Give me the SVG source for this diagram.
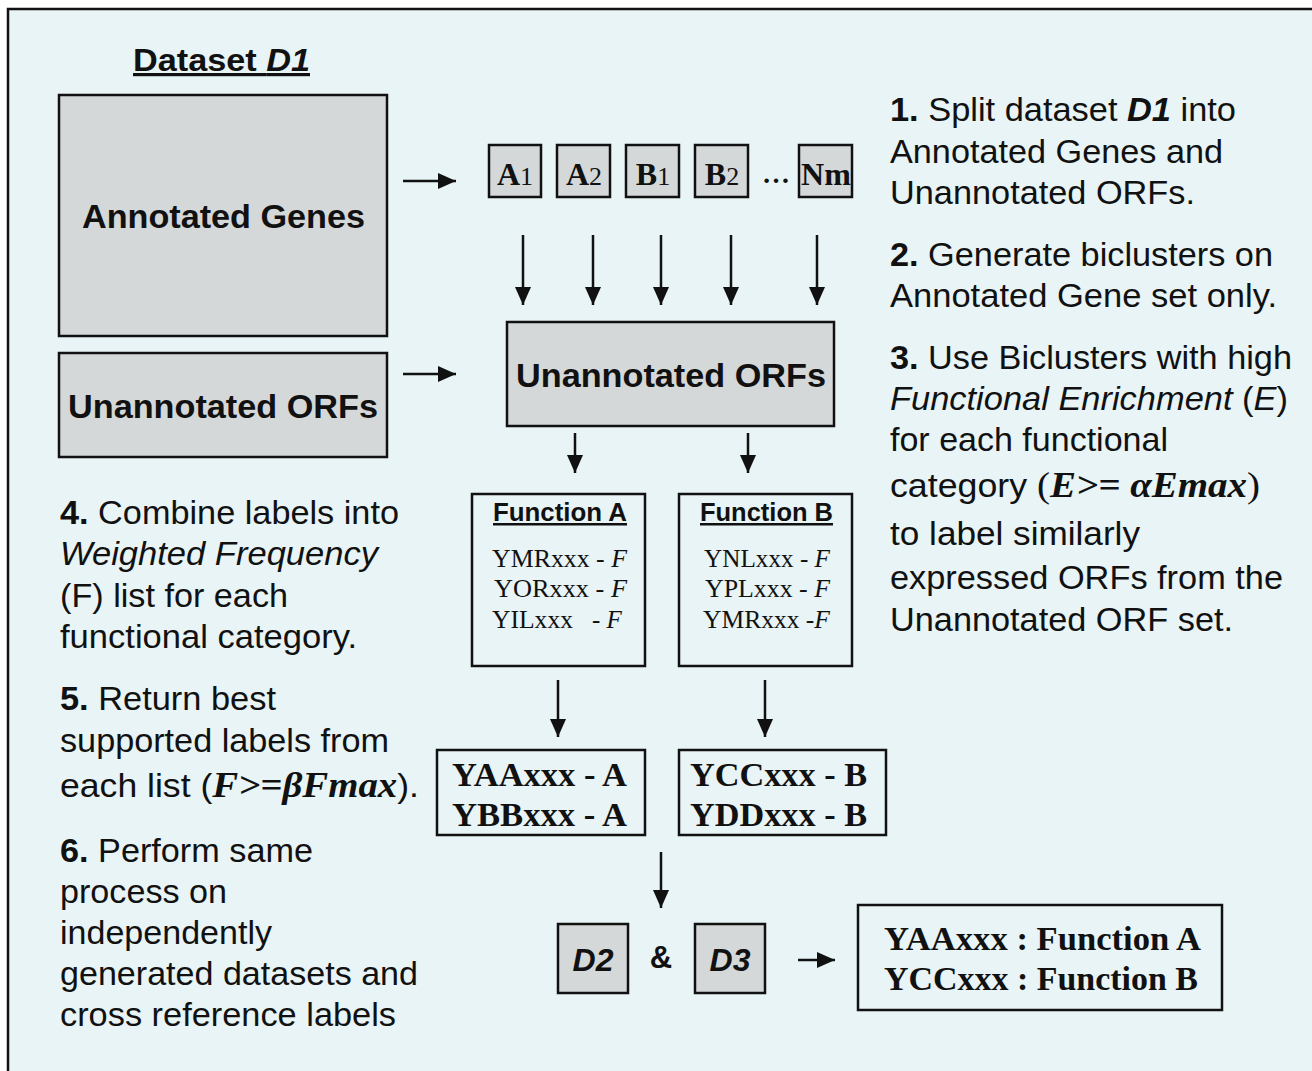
<svg xmlns="http://www.w3.org/2000/svg" width="1312" height="1071" viewBox="0 0 1312 1071">
<defs>
<marker id="ah" viewBox="0 0 18 16" refX="18" refY="8" markerWidth="18" markerHeight="16" markerUnits="userSpaceOnUse" orient="auto">
<path d="M0,0 L18,8 L0,16 Z" fill="#111"/>
</marker>
<style>
.box{fill:#D4D8D8;stroke:#111;stroke-width:2.5}
.wbox{fill:none;stroke:#111;stroke-width:2.5}
.lbl{font-family:"Liberation Sans",Arial,sans-serif;font-weight:bold;fill:#111}
.tm{font-family:"Liberation Serif","Times New Roman",serif;fill:#111}
.txt{font-family:"Liberation Sans",Arial,sans-serif;font-size:33px;fill:#111}
.con line{stroke:#111;stroke-width:2.5;marker-end:url(#ah)}
</style>
</defs>
<rect x="0" y="0" width="1312" height="1071" fill="#fff"/>
<rect x="8" y="9" width="1320" height="1080" fill="#E8F4F5" stroke="#111" stroke-width="2.5"/>

<g id="title">
<text class="lbl" x="133" y="71" font-size="32" textLength="177" lengthAdjust="spacingAndGlyphs" text-decoration="underline">Dataset <tspan font-style="italic">D1</tspan></text>
</g>

<g id="annotated-genes">
<rect class="box" x="59" y="95" width="328" height="241"/>
<text class="lbl" x="82" y="228" font-size="34" textLength="283" lengthAdjust="spacingAndGlyphs">Annotated Genes</text>
</g>
<g id="unannotated-left">
<rect class="box" x="59" y="353" width="328" height="104"/>
<text class="lbl" x="68" y="418" font-size="34" textLength="310" lengthAdjust="spacingAndGlyphs">Unannotated ORFs</text>
</g>

<g id="bc-a1"><rect class="box" x="489" y="145" width="52" height="52"/><text class="tm" x="515" y="185" font-size="32" font-weight="bold" text-anchor="middle">A<tspan font-weight="normal" font-size="26">1</tspan></text></g>
<g id="bc-a2"><rect class="box" x="557" y="145" width="53" height="52"/><text class="tm" x="584" y="185" font-size="32" font-weight="bold" text-anchor="middle">A<tspan font-weight="normal" font-size="26">2</tspan></text></g>
<g id="bc-b1"><rect class="box" x="626" y="145" width="53" height="52"/><text class="tm" x="653" y="185" font-size="32" font-weight="bold" text-anchor="middle">B<tspan font-weight="normal" font-size="26">1</tspan></text></g>
<g id="bc-b2"><rect class="box" x="695" y="145" width="53" height="52"/><text class="tm" x="722" y="185" font-size="32" font-weight="bold" text-anchor="middle">B<tspan font-weight="normal" font-size="26">2</tspan></text></g>
<g id="dots"><text class="tm" x="776" y="183" font-size="28" font-weight="bold" text-anchor="middle">…</text></g>
<g id="bc-nm"><rect class="box" x="799" y="145" width="53" height="52"/><text class="tm" x="826" y="185" font-size="32" font-weight="bold" text-anchor="middle">Nm</text></g>

<g id="unannotated-center">
<rect class="box" x="507" y="322" width="327" height="104"/>
<text class="lbl" x="516" y="387" font-size="34" textLength="310" lengthAdjust="spacingAndGlyphs">Unannotated ORFs</text>
</g>

<g id="function-a">
<rect class="wbox" x="472" y="494" width="173" height="172"/>
<text class="lbl" x="493" y="521" font-size="25" textLength="134" lengthAdjust="spacingAndGlyphs" text-decoration="underline">Function A</text>
<text class="tm" x="492" y="567" font-size="25" textLength="135" lengthAdjust="spacingAndGlyphs">YMRxxx - <tspan font-style="italic">F</tspan></text>
<text class="tm" x="494" y="597" font-size="25" textLength="133" lengthAdjust="spacingAndGlyphs">YORxxx - <tspan font-style="italic">F</tspan></text>
<text class="tm" x="492" y="628" font-size="25" textLength="81" lengthAdjust="spacingAndGlyphs">YILxxx</text>
<text class="tm" x="592" y="628" font-size="25">- <tspan font-style="italic">F</tspan></text>
</g>
<g id="function-b">
<rect class="wbox" x="679" y="494" width="173" height="172"/>
<text class="lbl" x="700" y="521" font-size="25" textLength="133" lengthAdjust="spacingAndGlyphs" text-decoration="underline">Function B</text>
<text class="tm" x="704" y="567" font-size="25" textLength="126" lengthAdjust="spacingAndGlyphs">YNLxxx - <tspan font-style="italic">F</tspan></text>
<text class="tm" x="705" y="597" font-size="25" textLength="125" lengthAdjust="spacingAndGlyphs">YPLxxx - <tspan font-style="italic">F</tspan></text>
<text class="tm" x="703" y="628" font-size="25" textLength="127" lengthAdjust="spacingAndGlyphs">YMRxxx -<tspan font-style="italic">F</tspan></text>
</g>

<g id="labels-a">
<rect class="wbox" x="437" y="750" width="208" height="85"/>
<text class="tm" x="452" y="786" font-size="34" font-weight="bold" textLength="175" lengthAdjust="spacingAndGlyphs">YAAxxx - A</text>
<text class="tm" x="452" y="826" font-size="34" font-weight="bold" textLength="175" lengthAdjust="spacingAndGlyphs">YBBxxx - A</text>
</g>
<g id="labels-b">
<rect class="wbox" x="679" y="750" width="207" height="85"/>
<text class="tm" x="690" y="786" font-size="34" font-weight="bold" textLength="177" lengthAdjust="spacingAndGlyphs">YCCxxx - B</text>
<text class="tm" x="690" y="826" font-size="34" font-weight="bold" textLength="177" lengthAdjust="spacingAndGlyphs">YDDxxx - B</text>
</g>

<g id="d2"><rect class="box" x="558" y="924" width="70" height="69"/><text class="lbl" x="593" y="971" font-size="32" font-style="italic" text-anchor="middle">D2</text></g>
<g id="amp"><text class="lbl" x="661" y="968" font-size="31" text-anchor="middle">&amp;</text></g>
<g id="d3"><rect class="box" x="695" y="924" width="70" height="69"/><text class="lbl" x="730" y="971" font-size="32" font-style="italic" text-anchor="middle">D3</text></g>

<g id="result">
<rect class="wbox" x="858" y="905" width="364" height="105"/>
<text class="tm" x="884" y="950" font-size="34" font-weight="bold" textLength="317" lengthAdjust="spacingAndGlyphs">YAAxxx : Function A</text>
<text class="tm" x="884" y="990" font-size="34" font-weight="bold" textLength="314" lengthAdjust="spacingAndGlyphs">YCCxxx : Function B</text>
</g>

<g id="connectors" class="con">
<line x1="403" y1="181" x2="456" y2="181"/>
<line x1="403" y1="374" x2="456" y2="374"/>
<line x1="523" y1="235" x2="523" y2="305"/>
<line x1="593" y1="235" x2="593" y2="305"/>
<line x1="661" y1="235" x2="661" y2="305"/>
<line x1="731" y1="235" x2="731" y2="305"/>
<line x1="817" y1="235" x2="817" y2="305"/>
<line x1="575" y1="433" x2="575" y2="473"/>
<line x1="748" y1="433" x2="748" y2="473"/>
<line x1="558" y1="680" x2="558" y2="737"/>
<line x1="765" y1="680" x2="765" y2="737"/>
<line x1="661" y1="852" x2="661" y2="908"/>
<line x1="798" y1="960" x2="835" y2="960"/>
</g>

<g id="steps-right">
<text class="txt" x="890" y="121" textLength="346" lengthAdjust="spacingAndGlyphs"><tspan font-weight="bold">1.</tspan> Split dataset <tspan font-weight="bold" font-style="italic">D1</tspan> into</text>
<text class="txt" x="890" y="163" textLength="333" lengthAdjust="spacingAndGlyphs">Annotated Genes and</text>
<text class="txt" x="890" y="204" textLength="305" lengthAdjust="spacingAndGlyphs">Unannotated ORFs.</text>
<text class="txt" x="890" y="266" textLength="383" lengthAdjust="spacingAndGlyphs"><tspan font-weight="bold">2.</tspan> Generate biclusters on</text>
<text class="txt" x="890" y="307" textLength="387" lengthAdjust="spacingAndGlyphs">Annotated Gene set only.</text>
<text class="txt" x="890" y="369" textLength="402" lengthAdjust="spacingAndGlyphs"><tspan font-weight="bold">3.</tspan> Use Biclusters with high</text>
<text class="txt" x="890" y="410" textLength="398" lengthAdjust="spacingAndGlyphs"><tspan font-style="italic">Functional Enrichment</tspan> (<tspan font-style="italic">E</tspan>)</text>
<text class="txt" x="890" y="451" textLength="278" lengthAdjust="spacingAndGlyphs">for each functional</text>
<text class="txt" x="890" y="497" textLength="370" lengthAdjust="spacingAndGlyphs">category <tspan font-family="'Liberation Serif','Times New Roman',serif" font-size="36">(<tspan font-weight="bold" font-style="italic">E&gt;= αEmax</tspan>)</tspan></text>
<text class="txt" x="890" y="545" textLength="250" lengthAdjust="spacingAndGlyphs">to label similarly</text>
<text class="txt" x="890" y="589" textLength="393" lengthAdjust="spacingAndGlyphs">expressed ORFs from the</text>
<text class="txt" x="890" y="631" textLength="343" lengthAdjust="spacingAndGlyphs">Unannotated ORF set.</text>
</g>

<g id="steps-left">
<text class="txt" x="60" y="524" textLength="339" lengthAdjust="spacingAndGlyphs"><tspan font-weight="bold">4.</tspan> Combine labels into</text>
<text class="txt" x="60" y="565" font-style="italic" textLength="318" lengthAdjust="spacingAndGlyphs">Weighted Frequency</text>
<text class="txt" x="60" y="607" textLength="228" lengthAdjust="spacingAndGlyphs">(F) list for each</text>
<text class="txt" x="60" y="648" textLength="297" lengthAdjust="spacingAndGlyphs">functional category.</text>
<text class="txt" x="60" y="710" textLength="216" lengthAdjust="spacingAndGlyphs"><tspan font-weight="bold">5.</tspan> Return best</text>
<text class="txt" x="60" y="752" textLength="329" lengthAdjust="spacingAndGlyphs">supported labels from</text>
<text class="txt" x="60" y="797" textLength="359" lengthAdjust="spacingAndGlyphs">each list (<tspan font-family="'Liberation Serif','Times New Roman',serif" font-size="36" font-weight="bold" font-style="italic">F&gt;=βFmax</tspan>).</text>
<text class="txt" x="60" y="862" textLength="253" lengthAdjust="spacingAndGlyphs"><tspan font-weight="bold">6.</tspan> Perform same</text>
<text class="txt" x="60" y="903" textLength="167" lengthAdjust="spacingAndGlyphs">process on</text>
<text class="txt" x="60" y="944" textLength="212" lengthAdjust="spacingAndGlyphs">independently</text>
<text class="txt" x="60" y="985" textLength="358" lengthAdjust="spacingAndGlyphs">generated datasets and</text>
<text class="txt" x="60" y="1026" textLength="336" lengthAdjust="spacingAndGlyphs">cross reference labels</text>
</g>
</svg>
